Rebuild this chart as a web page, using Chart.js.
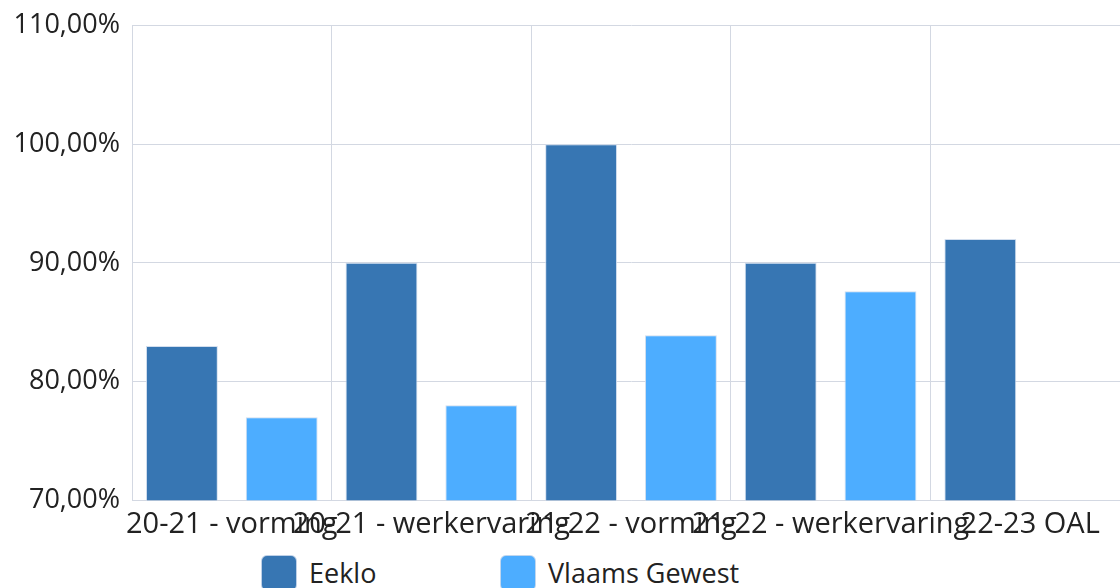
<!DOCTYPE html>
<html>
<head>
<meta charset="utf-8">
<script src="https://cdn.jsdelivr.net/npm/chart.js@4/dist/chart.umd.min.js"></script>
<style>
  html, body { margin: 0; padding: 0; background: #fff; overflow: hidden; }
  #wrap { position: absolute; left: 0; top: 0; width: 1130px; height: 549px; }
  #legend { position: absolute; left: 261px; top: 555px; display: flex; white-space: nowrap; font-family: "Open Sans", "Noto Sans", sans-serif; font-size: 27px; color: #222; }
  #legend .item { display: flex; align-items: center; flex: 0 0 239px; }
  #legend .box { flex: 0 0 auto; width: 34px; height: 34px; border-radius: 6px; border: 1px solid rgba(205,218,236,0.9); margin-right: 12px; }
  #legend .txt { line-height: 36px; }
</style>
</head>
<body>
<div id="wrap"><canvas id="chart"></canvas></div>
<div id="legend"></div>
<script>
// data
const categories = ['20-21 - vorming', '20-21 - werkervaring', '21-22 - vorming', '21-22 - werkervaring', '22-23 OAL'];
const eeklo = [83.0, 90.0, 100.0, 90.0, 92.0];
const vlaamsGewest = [77.0, 78.0, 83.9, 87.6, null];
const seriesNames = ['Eeklo', 'Vlaams Gewest'];
const yMin = 70, yMax = 110, yStep = 10;

const darkBlue = '#3776B3', lightBlue = '#4DADFF', edge = 'rgba(205,218,236,0.9)';
const gridColor = '#d3d8e2', textColor = '#222';
const family = '"Open Sans", "Noto Sans", sans-serif';

const chart = new Chart(document.getElementById('chart'), {
    type: 'bar',
    data: {
        labels: categories,
        datasets: [
            { label: seriesNames[0], data: eeklo, backgroundColor: darkBlue, borderColor: edge, borderWidth: 1 },
            { label: seriesNames[1], data: vlaamsGewest, backgroundColor: lightBlue, borderColor: edge, borderWidth: 1 }
        ]
    },
    options: {
        responsive: true,
        maintainAspectRatio: false,
        animation: false,
        categoryPercentage: 1.0,
        barPercentage: 0.72,
        layout: { padding: { top: 0, left: 0, right: 0, bottom: 0 } },
        plugins: {
            tooltip: { enabled: false },
            legend: { display: false }
        },
        scales: {
            x: {
                grid: { color: gridColor, drawTicks: false, offset: true },
                border: { color: gridColor },
                ticks: { font: { family, size: 29 }, color: textColor, maxRotation: 0, minRotation: 0, autoSkip: false, padding: 7 }
            },
            y: {
                min: yMin, max: yMax,
                grid: { color: gridColor, drawTicks: false },
                border: { color: gridColor },
                afterFit(scale) { scale.width = 132; },
                ticks: {
                    stepSize: yStep, font: { family, size: 27, lineHeight: 1.0 }, color: textColor, padding: 12,
                    callback: v => v.toFixed(2).replace('.', ',') + '%'
                }
            }
        }
    }
});

// html legend built from the chart datasets
const legendEl = document.getElementById('legend');
chart.data.datasets.forEach(ds => {
    const item = document.createElement('div');
    item.className = 'item';
    item.innerHTML = `<span class="box" style="background:${ds.backgroundColor}"></span><span class="txt">${ds.label}</span>`;
    legendEl.appendChild(item);
});
</script>
</body>
</html>
